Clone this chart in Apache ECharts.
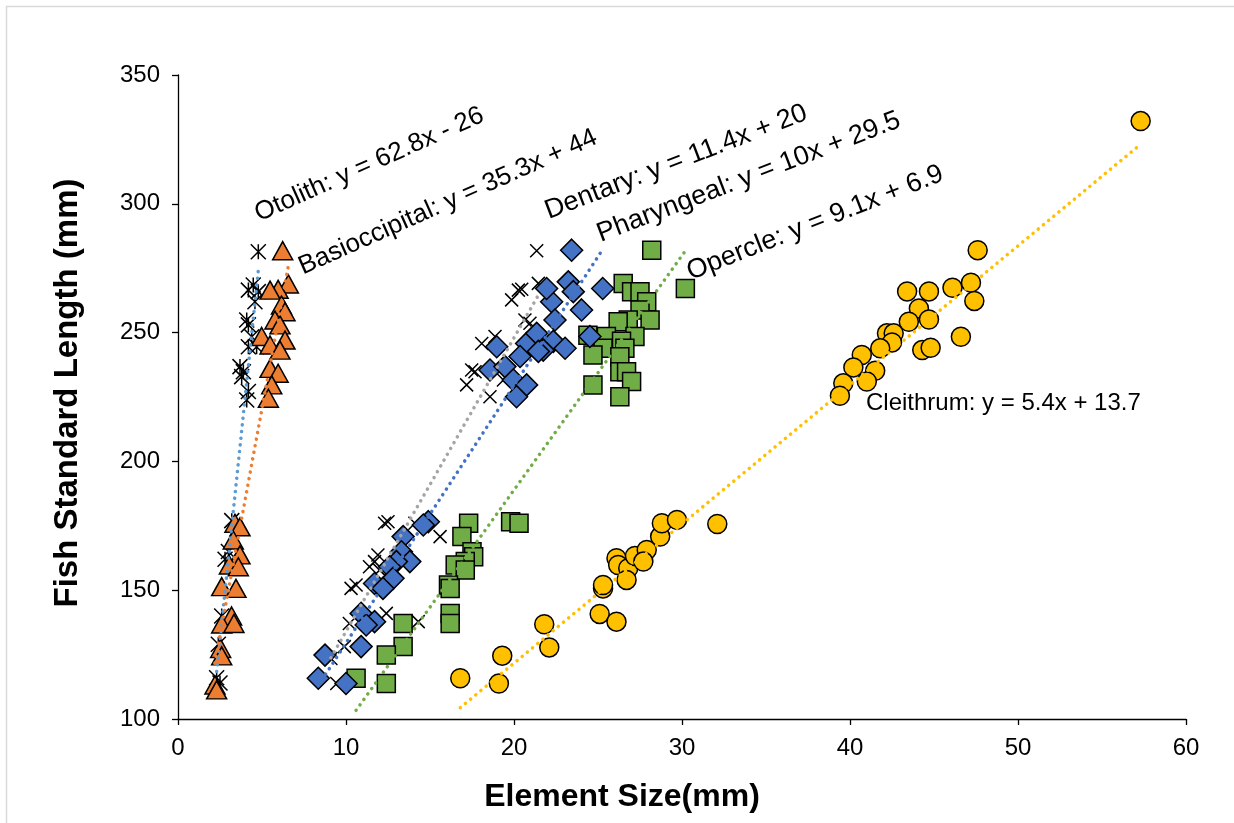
<!DOCTYPE html>
<html lang="en" style="height: 100%">
<head>
  <meta charset="utf-8">
</head>
<body style="height: 100%; margin: 0; background: #fff">
  <div id="container" style="width: 1234px; height: 823px"></div>

  <script type="text/javascript" src="https://cdn.jsdelivr.net/npm/echarts@6.0.0/dist/echarts.min.js"></script>
  <script type="text/javascript">
    // values (element size mm, standard length mm)
    var otolithX = [4.78, 4.48, 4.19, 4.78, 4.58, 4.09, 4.19, 4.39, 4.68, 4.19, 3.69, 3.89, 3.79, 4.19, 4.09, 3.2, 3.0, 2.8, 2.6, 2.4, 2.3, 2.5];
    var otolithY = [281.4, 268.5, 266.5, 265.9, 262, 254.9, 253, 248.4, 244.5, 244.5, 236.8, 234.8, 232.9, 227.1, 223.8, 177, 165, 162, 140, 129, 116, 114];

    var basioX = [6.23, 6.57, 5.96, 5.48, 6.16, 6.37, 5.77, 6.07, 6.37, 4.98, 5.48, 6.07, 5.48, 5.96, 5.58, 5.38,
      3.39, 3.69, 3.29, 3.69, 3.06, 3.59, 2.6, 3.45, 3.19, 2.6, 3.33, 2.54, 2.6, 2.2, 2.3];
    var basioY = [281.8, 268.9, 266.8, 266.5, 260.7, 258.1, 254.9, 253, 247.1, 248.5, 245.2, 243.2, 236.1, 234.2, 229.7, 224.5,
      176, 174.6, 169.5, 163.7, 159.8, 159.1, 151.4, 150.7, 140, 136.9, 137.1, 127.4, 124.5, 113.2, 111.3];

    var dentaryX = [21.35, 20.26, 20.46, 19.86, 21.45, 20.65, 20.95, 18.87, 18.08, 17.48, 17.68, 17.18, 18.57, 19.37,
      12.5, 12.3, 15.6, 11.9, 11.7, 11.4, 12.0, 10.6, 10.3, 12.4, 10.2, 14.3, 9.9, 9.45, 9.1, 14.1];
    var dentaryY = [281.8, 266.5, 266.8, 262.7, 269.1, 254.9, 253.6, 248.5, 245.8, 235.5, 234.8, 229.7, 225.1, 231.6,
      176.6, 176, 170.8, 163.7, 161.1, 159.1, 157.8, 152, 150.7, 141, 137.1, 137.8, 128.1, 113.8, 123.5, 176];

    var pharyX = [23.43, 23.23, 23.53, 25.28, 22.24, 24.02, 22.44, 24.52, 22.34, 23.04, 21.74, 21.94, 18.97, 20.75, 21.35,
      20.36, 21.45, 18.57, 19.46, 19.96, 20.75, 20.15, 14.9, 14.6, 13.4, 13.3, 13.8, 13.0, 12.6, 12.8, 11.7, 12.2,
      10.9, 11.7, 11.2, 10.9, 8.75, 8.35, 10.0];
    var pharyY = [282, 269.7, 265.9, 267.1, 262, 258.8, 254.9, 248.5, 246.6, 243.9, 243.2, 267.1, 244.5, 245.8, 249.7,
      240.7, 242.7, 235.5, 236.8, 231.6, 229.7, 225.1, 176.6, 175.3, 170.8, 164.9, 161.1, 161.1, 159.1, 154.6, 152.6, 150.7,
      141, 137.8, 136.5, 128.1, 124.8, 115.8, 113.8];

    var opercleX = [17.3, 16.9, 19.8, 20.3, 17.5, 17.6, 17.1, 16.5, 17.1, 16.1, 16.2, 16.2, 16.2, 13.4, 13.4, 12.4, 10.6, 12.4,
      28.2, 30.2, 26.5, 27.0, 27.5, 27.9, 27.5, 28.1, 26.8, 26.2, 24.4, 25.5, 27.2, 26.4, 25.3, 26.6, 24.7, 26.3, 26.3, 26.7, 27.0, 24.7, 26.3];
    var opercleY = [176, 170.8, 176.6, 176, 164.9, 163, 161.1, 159.8, 157.8, 152, 150.7, 141, 137.1, 137.1, 128.1, 124.8, 115.8, 113.8,
      282, 267.1, 269.1, 265.9, 265.9, 262, 258.8, 254.9, 254.9, 254.2, 249, 248.5, 248.5, 246.6, 243.9, 243.9, 241.3, 240.6, 234.8, 234.8, 231, 229.7, 225.1];

    var cleithrumX = [57.3, 47.6, 43.4, 44.7, 46.1, 47.2, 47.4, 44.1, 43.5, 44.7, 42.2, 42.6, 42.5, 41.8, 44.3, 44.8, 46.6,
      40.7, 40.2, 41.5, 41.0, 39.6, 39.4, 16.8, 19.1, 19.3, 21.8, 22.1, 25.1, 26.1, 25.3, 25.3, 26.1, 26.2, 26.8, 26.7,
      27.2, 27.9, 27.7, 28.7, 28.8, 29.7, 32.1];
    var cleithrumY = [332.1, 282, 266, 266, 267.4, 269.4, 262.3, 259.4, 254.2, 255.1, 249.7, 249.7, 246.2, 243.9, 243.2, 244.1, 248.4,
      241.3, 236.5, 235.2, 231, 230.3, 225.5, 115.8, 113.8, 124.6, 136.8, 127.8, 140.8, 137.8, 150.7, 152, 162.4, 159.8, 158.5, 154,
      163.3, 165.6, 161.1, 170.8, 176, 177.3, 175.7];

    // trendline equations (slope, intercept)
    var otolithFit = [62.8, -26];
    var basioFit = [35.3, 44];
    var dentaryFit = [11.4, 20];
    var pharyFit = [10, 29.5];
    var opercleFit = [9.1, 6.9];
    var cleithrumFit = [5.4, 13.7];

    var xTicks = [0, 60, 10];
    var yTicks = [100, 350, 50];

    function pairs(xs, ys) {
      return xs.map(function (x, i) { return [x, ys[i]]; });
    }
    function fitLine(xs, fit) {
      var lo = Math.min.apply(null, xs), hi = Math.max.apply(null, xs);
      return [[lo, fit[0] * lo + fit[1]], [hi, fit[0] * hi + fit[1]]];
    }

    var FONT = '"Liberation Sans", Arial, sans-serif';
    var asterisk = 'path://M0,0L100,100M100,0L0,100M50,0L50,100';
    var cross = 'path://M0,0L100,100M100,0L0,100';

    function pts(name, xs, ys, symbol, size, color, z) {
      return {
        name: name, type: 'scatter', data: pairs(xs, ys), symbol: symbol, symbolSize: size, z: z,
        itemStyle: { color: color, borderColor: '#000', borderWidth: 1.5, opacity: 1 }
      };
    }
    function trend(xs, fit, color) {
      return {
        type: 'line', data: fitLine(xs, fit), symbol: 'none', z: 20, silent: true,
        lineStyle: { color: color, width: 3.5, type: [0.1, 6.6], cap: 'round' }
      };
    }
    function deg(d) { return d * Math.PI / 180; }
    function eq(text, x, y, angle, size) {
      return {
        type: 'text', x: x, y: y, rotation: deg(angle),
        style: { text: text, fill: '#000', font: size + 'px ' + FONT, verticalAlign: 'middle', align: 'left' }
      };
    }

    var dom = document.getElementById('container');
    var myChart = echarts.init(dom, null, { renderer: 'canvas' });

    var option = {
      animation: false,
      backgroundColor: '#fff',
      grid: { left: 178, top: 75, width: 1008, height: 644 },
      xAxis: {
        type: 'value', min: xTicks[0], max: xTicks[1], interval: xTicks[2],
        splitLine: { show: false },
        axisLine: { show: true, lineStyle: { color: '#000', width: 1.3 } },
        axisTick: { show: true, length: 6, lineStyle: { color: '#000', width: 1.3 } },
        axisLabel: { fontSize: 24, color: '#000', fontFamily: FONT, margin: 17 }
      },
      yAxis: {
        type: 'value', min: yTicks[0], max: yTicks[1], interval: yTicks[2],
        splitLine: { show: false },
        axisLine: { show: true, lineStyle: { color: '#000', width: 1.3 } },
        axisTick: { show: true, length: 6, lineStyle: { color: '#000', width: 1.3 } },
        axisLabel: { fontSize: 24, color: '#000', fontFamily: FONT, margin: 18 }
      },
      graphic: [
        { type: 'rect', shape: { x: 6.5, y: 6.5, width: 1240, height: 840 }, style: { fill: 'none', stroke: '#d9d9d9', lineWidth: 1.5 }, z: -10 },
        { type: 'text', x: 622, y: 797, style: { text: 'Element Size(mm)', fill: '#000', font: 'bold 32px ' + FONT, align: 'center', verticalAlign: 'middle' } },
        { type: 'text', x: 68, y: 393, rotation: Math.PI / 2, style: { text: 'Fish Standard Length (mm)', fill: '#000', font: 'bold 33px ' + FONT, align: 'center', verticalAlign: 'middle' } },
        eq('Otolith: y = 62.8x - 26', 256, 215, 24, 26),
        eq('Basioccipital: y = 35.3x + 44', 300, 268, 24, 26),
        eq('Dentary: y = 11.4x + 20', 546, 212, 21, 27),
        eq('Pharyngeal: y = 10x + 29.5', 598, 235, 21, 27),
        eq('Opercle: y = 9.1x + 6.9', 688, 273, 21.5, 27),
        eq('Cleithrum: y = 5.4x + 13.7', 866, 403, 0, 24)
      ],
      series: [
        pts('Otolith', otolithX, otolithY, asterisk, 15, 'rgba(0,0,0,0)', 2),
        pts('Basioccipital', basioX, basioY, 'triangle', [20, 18], '#ED7D31', 3),
        pts('Opercle', opercleX, opercleY, 'rect', 18, '#70AD47', 4),
        pts('Dentary', dentaryX, dentaryY, cross, 13, 'rgba(0,0,0,0)', 5),
        pts('Pharyngeal', pharyX, pharyY, 'diamond', 22, '#4472C4', 6),
        pts('Cleithrum', cleithrumX, cleithrumY, 'circle', 19, '#FFC000', 7),
        trend(otolithX, otolithFit, '#5B9BD5'),
        trend(basioX, basioFit, '#ED7D31'),
        trend(dentaryX, dentaryFit, '#A5A5A5'),
        trend(pharyX, pharyFit, '#4472C4'),
        trend(opercleX, opercleFit, '#70AD47'),
        trend(cleithrumX, cleithrumFit, '#FFC000')
      ]
    };

    myChart.setOption(option);
    window.addEventListener('resize', myChart.resize);
  </script>
</body>
</html>
